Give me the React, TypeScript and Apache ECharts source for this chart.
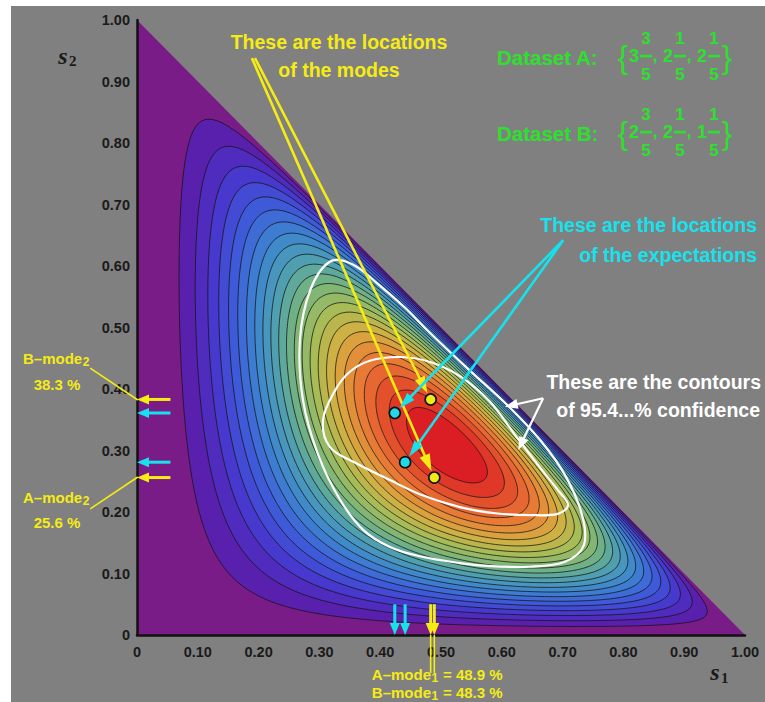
import React, { useEffect, useRef } from "react";
import * as echarts from "echarts";

// ---------------- data ----------------
const TICK_VALUES = [0, 0.1, 0.2, 0.3, 0.4, 0.5, 0.6, 0.7, 0.8, 0.9, 1.0];
const TICK_LABELS = ["0", "0.10", "0.20", "0.30", "0.40", "0.50", "0.60", "0.70", "0.80", "0.90", "1.00"];

// background surface  s1^a * s2^b * s3^c  (s3 = 1 - s1 - s2), contours at k/25 of its peak
const SURFACE_EXPONENTS = [2.33, 1.4, 0.84];
const CONTOUR_LEVELS = 25;

// dataset A, dataset B
const MODE_S1 = [0.489, 0.483];
const MODE_S2 = [0.256, 0.383];
const EXPECT_S1 = [0.441, 0.424];
const EXPECT_S2 = [0.281, 0.361];

// 95.4% confidence contours
const LOOP_OUTER_S1 = [0.317, 0.354, 0.396, 0.441, 0.477, 0.543, 0.609, 0.663, 0.704, 0.732, 0.735, 0.704, 0.646, 0.581, 0.531, 0.465, 0.416, 0.372, 0.334, 0.298, 0.273, 0.268, 0.285];
const LOOP_OUTER_S2 = [0.607, 0.603, 0.571, 0.532, 0.496, 0.434, 0.374, 0.317, 0.260, 0.195, 0.146, 0.119, 0.111, 0.112, 0.117, 0.128, 0.143, 0.171, 0.220, 0.293, 0.382, 0.480, 0.561];
const LOOP_INNER_S1 = [0.306, 0.326, 0.350, 0.383, 0.433, 0.482, 0.531, 0.581, 0.622, 0.660, 0.692, 0.709, 0.692, 0.646, 0.589, 0.531, 0.465, 0.416, 0.359, 0.317];
const LOOP_INNER_S2 = [0.350, 0.398, 0.428, 0.446, 0.452, 0.444, 0.421, 0.379, 0.325, 0.276, 0.236, 0.211, 0.197, 0.195, 0.198, 0.208, 0.229, 0.252, 0.280, 0.306];

// annotation anchors (data coordinates)
const MODE_NOTE_S1 = [0.189, 0.194];
const MODE_NOTE_S2 = [0.938, 0.938];
const EXPECT_NOTE = [0.701, 0.642];
const CONF_NOTE = [0.668, 0.385];
const CONF_TARGET_S1 = [0.605, 0.627];
const CONF_TARGET_S2 = [0.371, 0.301];

// ---------------- styles ----------------
const SANS = '"Liberation Sans", Arial, Helvetica, sans-serif';
const SERIF = '"Liberation Serif", "Times New Roman", serif';
const YELLOW = "#f5ec14";
const CYAN = "#16e2ee";
const WHITE = "#ffffff";
const GREEN = "#2ee02e";
const INK = "#1a1a1a";

const STOP_T = [0, 0.04, 0.12, 0.22, 0.32, 0.42, 0.52, 0.62, 0.72, 0.82, 0.91, 1.0];
const STOP_RGB = [
  [122, 28, 135], [88, 32, 172], [72, 55, 205], [62, 95, 218], [62, 135, 205], [80, 160, 175],
  [120, 180, 125], [165, 188, 88], [210, 175, 65], [232, 130, 55], [228, 85, 45], [218, 30, 35],
];

function bandColor(t: number) {
  let i = 0;
  while (i < STOP_T.length - 2 && t > STOP_T[i + 1]) i++;
  const f = Math.max(0, Math.min(1, (t - STOP_T[i]) / (STOP_T[i + 1] - STOP_T[i])));
  const a = STOP_RGB[i], b = STOP_RGB[i + 1];
  const c = [0, 1, 2].map((k) => Math.round(a[k] + (b[k] - a[k]) * f));
  return `rgb(${c[0]},${c[1]},${c[2]})`;
}

function buildContours() {
  const [a, b, c] = SURFACE_EXPONENTS;
  const S = a + b + c;
  const m1 = a / S, m2 = b / S;
  const lf = (u: number, v: number) => {
    const w = 1 - u - v;
    if (u <= 0 || v <= 0 || w <= 0) return -Infinity;
    return a * Math.log(u) + b * Math.log(v) + c * Math.log(w);
  };
  const peak = lf(m1, m2);
  const STEPS = 540;
  const rings: number[][][] = [];
  for (let k = 1; k < CONTOUR_LEVELS; k++) {
    const target = peak + Math.log(k / CONTOUR_LEVELS);
    const pts: number[][] = [];
    for (let i = 0; i < STEPS; i++) {
      const th = (2 * Math.PI * i) / STEPS;
      const dx = Math.cos(th), dy = Math.sin(th);
      let tmax = Infinity;
      if (dx < 0) tmax = Math.min(tmax, -m1 / dx);
      if (dy < 0) tmax = Math.min(tmax, -m2 / dy);
      if (dx + dy > 0) tmax = Math.min(tmax, (1 - m1 - m2) / (dx + dy));
      let lo = 0, hi = tmax;
      for (let it = 0; it < 50; it++) {
        const mid = (lo + hi) / 2;
        if (lf(m1 + mid * dx, m2 + mid * dy) > target) lo = mid;
        else hi = mid;
      }
      pts.push([m1 + lo * dx, m2 + lo * dy]);
    }
    rings.push(pts);
  }
  return rings;
}

const ARROW_STYLES = [
  { color: YELLOW, width: 2.6, head: 17, headW: 11, gap: 7 }, // to modes
  { color: CYAN, width: 2.6, head: 16, headW: 10, gap: 7 }, // to expectations
  { color: WHITE, width: 2.2, head: 13, headW: 10, gap: 0 }, // to confidence contours
  { color: YELLOW, width: 3, head: 12, headW: 10, gap: 0 }, // axis markers (modes)
  { color: CYAN, width: 3, head: 12, headW: 10, gap: 0 }, // axis markers (expectations)
  { color: YELLOW, width: 1.6, head: 0, headW: 0, gap: 0 }, // leaders
];

let measureCtx: CanvasRenderingContext2D | null = null;
function textWidth(text: string, size: number, family = SANS, weight = "bold", style = "normal") {
  if (!measureCtx) measureCtx = document.createElement("canvas").getContext("2d");
  if (!measureCtx) return text.length * size * 0.55;
  measureCtx.font = `${style} ${weight} ${size}px ${family}`;
  return measureCtx.measureText(text).width;
}

export default function App() {
  const ref = useRef<HTMLDivElement>(null);

  useEffect(() => {
    if (!ref.current) return;
    const chart = echarts.init(ref.current, null, { renderer: "svg" });
    const rings = buildContours();

    const arrows: number[][] = [];
    arrows.push([-0.077, 0.434, 0, MODE_S2[1], 5]);
    arrows.push([-0.077, 0.205, 0, MODE_S2[0], 5]);
    for (let i = 0; i < 2; i++) arrows.push([MODE_S1[i], 0, MODE_S1[i], -0.06, 5]);
    for (let i = 0; i < 2; i++) arrows.push([MODE_NOTE_S1[i], MODE_NOTE_S2[i], MODE_S1[i], MODE_S2[i], 0]);
    for (let i = 0; i < 2; i++) arrows.push([EXPECT_NOTE[0], EXPECT_NOTE[1], EXPECT_S1[i], EXPECT_S2[i], 1]);
    for (let i = 0; i < 2; i++) arrows.push([CONF_NOTE[0], CONF_NOTE[1], CONF_TARGET_S1[i], CONF_TARGET_S2[i], 2]);
    for (let i = 0; i < 2; i++) {
      arrows.push([0.055, EXPECT_S2[i], 0, EXPECT_S2[i], 4]);
      arrows.push([0.055, MODE_S2[i], 0, MODE_S2[i], 3]);
      arrows.push([EXPECT_S1[i], 0.05, EXPECT_S1[i], 0, 4]);
      arrows.push([MODE_S1[i], 0.05, MODE_S1[i], 0, 3]);
    }

    const loops = [
      LOOP_OUTER_S1.map((u, i) => [u, LOOP_OUTER_S2[i]]),
      LOOP_INNER_S1.map((u, i) => [u, LOOP_INNER_S2[i]]),
    ];

    const txt = (x: number, y: number, text: string, fill: string, size: number, align: string, extra: any = {}) => ({
      type: "text",
      x,
      y,
      silent: true,
      style: {
        text,
        fill,
        fontSize: size,
        fontWeight: "bold",
        fontFamily: SANS,
        align,
        verticalAlign: "middle",
        ...extra,
      },
    });

    const graphics: any[] = [
      txt(339, 42, "These are the locations", YELLOW, 19.5, "center"),
      txt(339, 70, "of the modes", YELLOW, 19.5, "center"),
      txt(757, 225, "These are the locations", CYAN, 19.5, "right"),
      txt(757, 255, "of the expectations", CYAN, 19.5, "right"),
      txt(761, 382, "These are the contours", WHITE, 19.5, "right"),
      txt(760, 410, "of 95.4...% confidence", WHITE, 19.5, "right"),
      txt(497, 57, "Dataset A:", GREEN, 20.5, "left"),
      txt(497, 133, "Dataset B:", GREEN, 20.5, "left"),
      txt(57, 384, "38.3 %", YELLOW, 15, "center"),
      txt(57, 522, "25.6 %", YELLOW, 15, "center"),
    ];

    // labels with a subscript: main text, subscript digit, optional tail
    const subLabel = (x: number, y: number, main: string, sub: string, tail: string, alignRight: boolean) => {
      const w = textWidth(main, 15);
      const left = alignRight ? x - w : x;
      graphics.push(txt(left, y, main, YELLOW, 15, "left"));
      graphics.push(txt(left + w + 0.5, y + 4, sub, YELLOW, 12, "left"));
      if (tail) graphics.push(txt(443, y, tail, YELLOW, 15, "left"));
    };
    subLabel(23, 358, "B\u2013mode", "2", "", false);
    subLabel(23, 497, "A\u2013mode", "2", "", false);
    subLabel(431, 674, "A\u2013mode", "1", "= 48.9 %", true);
    subLabel(431, 692, "B\u2013mode", "1", "= 48.3 %", true);

    // axis titles
    graphics.push(txt(63, 56, "s", INK, 24, "center", { fontFamily: SERIF, fontStyle: "italic" }));
    graphics.push(txt(69, 61, "2", INK, 15, "left", { fontFamily: SERIF }));
    graphics.push(txt(715, 672, "s", INK, 24, "center", { fontFamily: SERIF, fontStyle: "italic" }));
    graphics.push(txt(721, 678, "1", INK, 15, "left", { fontFamily: SERIF }));

    // dataset formulas
    const FORMULAS = [
      { y: 56, whole: ["3", "2", "2"], num: ["3", "1", "1"] },
      { y: 132, whole: ["2", "2", "1"], num: ["3", "1", "1"] },
    ];
    const wholeX = [634, 668, 702];
    const fracX = [646, 680, 714];
    FORMULAS.forEach((f) => {
      graphics.push(txt(623, f.y + 1, "{", GREEN, 31, "center", { fontWeight: "normal" }));
      graphics.push(txt(727, f.y + 1, "}", GREEN, 31, "center", { fontWeight: "normal" }));
      for (let i = 0; i < 3; i++) {
        graphics.push(txt(wholeX[i], f.y, f.whole[i], GREEN, 18, "center"));
        graphics.push(txt(fracX[i], f.y - 18, f.num[i], GREEN, 17, "center"));
        graphics.push(txt(fracX[i], f.y + 18, "5", GREEN, 17, "center"));
        graphics.push({
          type: "rect",
          silent: true,
          shape: { x: fracX[i] - 6, y: f.y - 1.2, width: 12, height: 2.6 },
          style: { fill: GREEN },
        });
        if (i < 2) graphics.push(txt(fracX[i] + 9, f.y - 1, ",", GREEN, 17, "center"));
      }
    });

    const axisCommon = {
      type: "value",
      min: 0,
      max: 1,
      interval: 0.1,
      z: 4,
      axisLine: { show: true, onZero: false, lineStyle: { color: "#111", width: 2.5 } },
      axisTick: { show: false },
      splitLine: { show: false },
    };
    const labelFmt = (v: number) => {
      const idx = TICK_VALUES.findIndex((t) => Math.abs(t - v) < 1e-6);
      return idx >= 0 ? TICK_LABELS[idx] : "";
    };

    chart.setOption({
      animation: false,
      grid: { left: 137, top: 20, width: 608, height: 615, containLabel: false },
      xAxis: {
        ...axisCommon,
        axisLabel: { formatter: labelFmt, color: INK, fontSize: 14.5, fontWeight: "bold", fontFamily: SANS, margin: 9 },
      },
      yAxis: {
        ...axisCommon,
        axisLabel: { formatter: labelFmt, color: INK, fontSize: 14.5, fontWeight: "bold", fontFamily: SANS, margin: 7 },
      },
      graphic: { elements: graphics },
      series: [
        {
          type: "custom",
          name: "density",
          silent: true,
          clip: false,
          z: 1,
          data: [[0.5, 0.3]],
          encode: { x: 0, y: 1 },
          renderItem: (params: any, api: any) => {
            const children: any[] = [];
            const tri = [[0, 0], [1, 0], [0, 1]].map((p) => api.coord(p));
            children.push({ type: "polygon", shape: { points: tri }, style: { fill: bandColor(0), stroke: "none" } });
            rings.forEach((ring, k) => {
              children.push({
                type: "polygon",
                shape: { points: ring.map((p) => api.coord(p)) },
                style: {
                  fill: bandColor((k + 1) / (CONTOUR_LEVELS - 1)),
                  stroke: "rgba(20,20,20,0.85)",
                  lineWidth: 0.9,
                },
              });
            });
            return { type: "group", children };
          },
        },
        {
          type: "custom",
          name: "confidence",
          silent: true,
          clip: false,
          z: 3,
          data: [[0.5, 0.3, 0], [0.5, 0.3, 1]],
          encode: { x: 0, y: 1 },
          renderItem: (params: any, api: any) => {
            const loop = loops[api.value(2)];
            return {
              type: "polygon",
              shape: { points: loop.map((p) => api.coord(p)), smooth: 0.35 },
              style: { fill: "none", stroke: WHITE, lineWidth: 2.2 },
            };
          },
        },
        {
          type: "custom",
          name: "arrows",
          silent: true,
          clip: false,
          z: 5,
          data: arrows,
          encode: { x: [0, 2], y: [1, 3] },
          renderItem: (params: any, api: any) => {
            const p1 = api.coord([api.value(0), api.value(1)]);
            const p2 = api.coord([api.value(2), api.value(3)]);
            const st = ARROW_STYLES[api.value(4)];
            const dx = p2[0] - p1[0], dy = p2[1] - p1[1];
            const len = Math.sqrt(dx * dx + dy * dy) || 1;
            const ux = dx / len, uy = dy / len;
            const nx = -uy, ny = ux;
            const tip = [p2[0] - ux * st.gap, p2[1] - uy * st.gap];
            const base = [tip[0] - ux * st.head, tip[1] - uy * st.head];
            const children: any[] = [
              {
                type: "line",
                shape: { x1: p1[0], y1: p1[1], x2: base[0] + ux * 1, y2: base[1] + uy * 1 },
                style: { stroke: st.color, lineWidth: st.width },
              },
            ];
            if (st.head > 0) {
              children.push({
                type: "polygon",
                shape: {
                  points: [
                    tip,
                    [base[0] + (nx * st.headW) / 2, base[1] + (ny * st.headW) / 2],
                    [base[0] - (nx * st.headW) / 2, base[1] - (ny * st.headW) / 2],
                  ],
                },
                style: { fill: st.color },
              });
            }
            return { type: "group", children };
          },
        },
        {
          type: "scatter",
          name: "expectations",
          silent: true,
          z: 6,
          symbolSize: 11,
          itemStyle: { color: "#22d8e8", borderColor: "#111", borderWidth: 1.6, opacity: 1 },
          data: EXPECT_S1.map((u, i) => [u, EXPECT_S2[i]]),
        },
        {
          type: "scatter",
          name: "modes",
          silent: true,
          z: 6,
          symbolSize: 11,
          itemStyle: { color: "#f2ea18", borderColor: "#111", borderWidth: 1.6, opacity: 1 },
          data: MODE_S1.map((u, i) => [u, MODE_S2[i]]),
        },
      ],
    } as any);

    return () => chart.dispose();
  }, []);

  return (
    <div style={{ position: "fixed", left: 0, top: 0, width: 765, height: 702, background: "#ffffff" }}>
      <div style={{ position: "absolute", left: 11, top: 6, right: 0, bottom: 0, background: "#808080" }} />
      <div ref={ref} style={{ position: "absolute", left: 0, top: 0, width: 765, height: 702 }} />
    </div>
  );
}
